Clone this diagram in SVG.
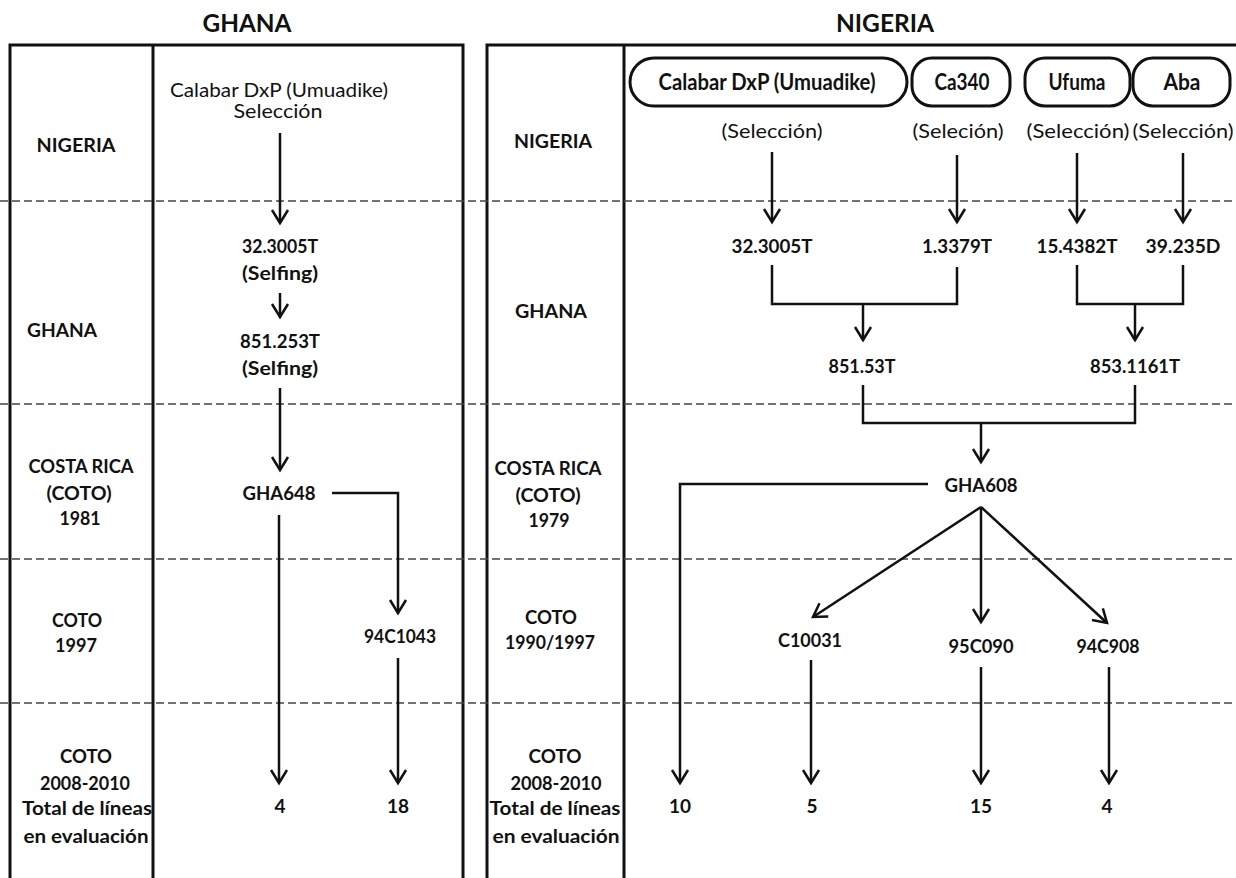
<svg xmlns="http://www.w3.org/2000/svg" width="1236" height="878" viewBox="0 0 1236 878">
<style>
text{font-family:Lato,"Liberation Sans",sans-serif;fill:#111;text-anchor:middle}
.t{font-size:24px;font-weight:bold}
.r{font-size:19px;font-weight:bold}
.c{font-size:19px;font-weight:bold}
.n{font-size:19px;font-weight:normal}
.rn{font-size:19px;font-weight:normal}
.rc{font-size:19px;font-weight:bold}
.p{font-size:23px;font-weight:bold}
.frame{stroke:#111;stroke-width:3;fill:none}
.dash{stroke:#444;stroke-width:1.6;stroke-dasharray:8 4;fill:none}
.pill{stroke:#111;stroke-width:3;fill:#fff}
.ln{stroke:#111;stroke-width:2.5;fill:none}
.ar{stroke:#111;stroke-width:2.5;fill:none;marker-end:url(#ah)}
</style>
<defs>
<marker id="ah" markerUnits="userSpaceOnUse" markerWidth="30" markerHeight="30" refX="0" refY="0" orient="auto" viewBox="-20 -15 30 30" overflow="visible">
<path d="M-13,-8 L0,0 L-13,8" fill="none" stroke="#111" stroke-width="2.5"/>
</marker>
</defs>
<rect width="1236" height="878" fill="#fff"/>

<g id="frames">
<text class="t" x="247" y="32" textLength="89" lengthAdjust="spacingAndGlyphs">GHANA</text>
<text class="t" x="885" y="32" textLength="98" lengthAdjust="spacingAndGlyphs">NIGERIA</text>
<path class="frame" d="M10,890 V45 H463 V890 M153,45 V890"/>
<path class="frame" d="M487,890 V45 H1240 M624,45 V890"/>
<path class="dash" d="M0,201 H1236 M0,404 H1236 M0,559 H1236 M0,703 H1236"/>
</g>

<g id="ghana-rows">
<text class="r" x="76" y="152" textLength="79" lengthAdjust="spacingAndGlyphs">NIGERIA</text>
<text class="r" x="62" y="337" textLength="70" lengthAdjust="spacingAndGlyphs">GHANA</text>
<text class="r" x="81" y="473" textLength="105" lengthAdjust="spacingAndGlyphs">COSTA RICA</text>
<text class="r" x="79" y="500" textLength="65" lengthAdjust="spacingAndGlyphs">(COTO)</text>
<text class="r" x="80" y="525" textLength="41" lengthAdjust="spacingAndGlyphs">1981</text>
<text class="r" x="77" y="627" textLength="50" lengthAdjust="spacingAndGlyphs">COTO</text>
<text class="r" x="76" y="652" textLength="42" lengthAdjust="spacingAndGlyphs">1997</text>
<text class="r" x="86" y="763" textLength="52" lengthAdjust="spacingAndGlyphs">COTO</text>
<text class="r" x="85" y="790" textLength="90" lengthAdjust="spacingAndGlyphs">2008-2010</text>
<text class="r" x="87" y="815" textLength="130" lengthAdjust="spacingAndGlyphs">Total de líneas</text>
<text class="r" x="86" y="843" textLength="125" lengthAdjust="spacingAndGlyphs">en evaluación</text>
</g>

<g id="nigeria-rows">
<text class="r" x="553" y="148" textLength="78" lengthAdjust="spacingAndGlyphs">NIGERIA</text>
<text class="r" x="551" y="318" textLength="72" lengthAdjust="spacingAndGlyphs">GHANA</text>
<text class="r" x="548" y="475" textLength="107" lengthAdjust="spacingAndGlyphs">COSTA RICA</text>
<text class="r" x="548" y="502" textLength="65" lengthAdjust="spacingAndGlyphs">(COTO)</text>
<text class="r" x="549" y="527" textLength="41" lengthAdjust="spacingAndGlyphs">1979</text>
<text class="r" x="551" y="624" textLength="52" lengthAdjust="spacingAndGlyphs">COTO</text>
<text class="r" x="550" y="649" textLength="90" lengthAdjust="spacingAndGlyphs">1990/1997</text>
<text class="r" x="555" y="763" textLength="53" lengthAdjust="spacingAndGlyphs">COTO</text>
<text class="r" x="556" y="790" textLength="91" lengthAdjust="spacingAndGlyphs">2008-2010</text>
<text class="r" x="555" y="815" textLength="131" lengthAdjust="spacingAndGlyphs">Total de líneas</text>
<text class="r" x="556" y="843" textLength="127" lengthAdjust="spacingAndGlyphs">en evaluación</text>
</g>

<g id="g-calabar">
<text class="n" x="279" y="97" textLength="218" lengthAdjust="spacingAndGlyphs">Calabar DxP (Umuadike)</text>
<text class="n" x="278" y="118" textLength="89" lengthAdjust="spacingAndGlyphs">Selección</text>
</g>
<g id="g-32-3005T">
<text class="c" x="280" y="253" textLength="76" lengthAdjust="spacingAndGlyphs">32.3005T</text>
<text class="c" x="280" y="280" textLength="76" lengthAdjust="spacingAndGlyphs">(Selfing)</text>
</g>
<g id="g-851-253T">
<text class="c" x="280" y="348" textLength="80" lengthAdjust="spacingAndGlyphs">851.253T</text>
<text class="c" x="280" y="375" textLength="76" lengthAdjust="spacingAndGlyphs">(Selfing)</text>
</g>
<g id="g-GHA648"><text class="c" x="279" y="500" textLength="73" lengthAdjust="spacingAndGlyphs">GHA648</text></g>
<g id="g-94C1043"><text class="c" x="400" y="643" textLength="72" lengthAdjust="spacingAndGlyphs">94C1043</text></g>
<g id="g-4"><text class="c" x="280" y="813">4</text></g>
<g id="g-18"><text class="c" x="398" y="813">18</text></g>

<g id="n-calabar">
<rect class="pill" x="630" y="58" width="277" height="48" rx="24" ry="24"/>
<text class="p" x="767" y="90" textLength="217" lengthAdjust="spacingAndGlyphs">Calabar DxP (Umuadike)</text>
<text class="rn" x="772" y="138" textLength="101" lengthAdjust="spacingAndGlyphs">(Selección)</text>
</g>
<g id="n-ca340">
<rect class="pill" x="912" y="58" width="98" height="48" rx="20" ry="20"/>
<text class="p" x="962" y="90" textLength="55" lengthAdjust="spacingAndGlyphs">Ca340</text>
<text class="rn" x="958" y="138" textLength="91" lengthAdjust="spacingAndGlyphs">(Seleción)</text>
</g>
<g id="n-ufuma">
<rect class="pill" x="1025" y="58" width="105" height="48" rx="20" ry="20"/>
<text class="p" x="1077" y="90" textLength="57" lengthAdjust="spacingAndGlyphs">Ufuma</text>
<text class="rn" x="1078" y="138" textLength="103" lengthAdjust="spacingAndGlyphs">(Selección)</text>
</g>
<g id="n-aba">
<rect class="pill" x="1133" y="58" width="97" height="48" rx="20" ry="20"/>
<text class="p" x="1182" y="90" textLength="37" lengthAdjust="spacingAndGlyphs">Aba</text>
<text class="rn" x="1183" y="138" textLength="101" lengthAdjust="spacingAndGlyphs">(Selección)</text>
</g>
<g id="n-32-3005T"><text class="rc" x="772" y="253" textLength="81" lengthAdjust="spacingAndGlyphs">32.3005T</text></g>
<g id="n-1-3379T"><text class="rc" x="957" y="253" textLength="70" lengthAdjust="spacingAndGlyphs">1.3379T</text></g>
<g id="n-15-4382T"><text class="rc" x="1077" y="253" textLength="81" lengthAdjust="spacingAndGlyphs">15.4382T</text></g>
<g id="n-39-235D"><text class="rc" x="1183" y="253" textLength="75" lengthAdjust="spacingAndGlyphs">39.235D</text></g>
<g id="n-851-53T"><text class="rc" x="862" y="373" textLength="67" lengthAdjust="spacingAndGlyphs">851.53T</text></g>
<g id="n-853-1161T"><text class="rc" x="1135" y="373" textLength="90" lengthAdjust="spacingAndGlyphs">853.1161T</text></g>
<g id="n-GHA608"><text class="rc" x="981" y="492" textLength="73" lengthAdjust="spacingAndGlyphs">GHA608</text></g>
<g id="n-C10031"><text class="rc" x="810" y="647" textLength="64" lengthAdjust="spacingAndGlyphs">C10031</text></g>
<g id="n-95C090"><text class="rc" x="981" y="653" textLength="65" lengthAdjust="spacingAndGlyphs">95C090</text></g>
<g id="n-94C908"><text class="rc" x="1108" y="653" textLength="63" lengthAdjust="spacingAndGlyphs">94C908</text></g>
<g id="n-10"><text class="rc" x="680" y="813">10</text></g>
<g id="n-5"><text class="rc" x="812" y="813">5</text></g>
<g id="n-15"><text class="rc" x="981" y="813">15</text></g>
<g id="n-4"><text class="rc" x="1107" y="813">4</text></g>

<g id="connectors">
<path class="ar" d="M280,133 V223"/>
<path class="ar" d="M280,293 V317"/>
<path class="ar" d="M280,388 V470"/>
<path class="ar" d="M332,493 H398 V613"/>
<path class="ar" d="M279,515 V783"/>
<path class="ar" d="M398,658 V783"/>

<path class="ar" d="M772,152 V222"/>
<path class="ar" d="M957,155 V222"/>
<path class="ar" d="M1077,153 V222"/>
<path class="ar" d="M1183,153 V222"/>
<path class="ln" d="M772,265 V304 H957 V267"/>
<path class="ar" d="M863,304 V340"/>
<path class="ln" d="M1077,265 V304 H1183 V265"/>
<path class="ar" d="M1135,304 V340"/>
<path class="ln" d="M863,385 V423 H1135 V385"/>
<path class="ar" d="M981,423 V462"/>
<path class="ar" d="M928,484 H680 V783"/>
<path class="ar" d="M981,507 L813,617"/>
<path class="ar" d="M981,507 V622"/>
<path class="ar" d="M981,507 L1107,623"/>
<path class="ar" d="M811,660 V783"/>
<path class="ar" d="M981,667 V783"/>
<path class="ar" d="M1109,667 V783"/>
</g>
</svg>
